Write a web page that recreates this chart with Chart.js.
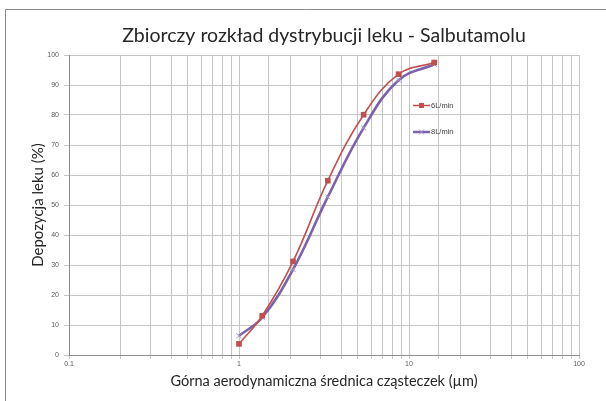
<!DOCTYPE html>
<html>
<head>
<meta charset="utf-8">
<script src="https://cdn.jsdelivr.net/npm/chart.js@4/dist/chart.umd.min.js"></script>
<style>
  html, body { margin: 0; padding: 0; background: #fff; overflow: hidden; }
  canvas { display: block; }
</style>
</head>
<body>
<canvas id="c" width="606" height="401"></canvas>
<script>
// ---- data ----
const sizes = [1.0, 1.37, 2.08, 3.33, 5.41, 8.68, 14.07];      // µm (log x)
const flow6 = [3.7, 13.1, 31.2, 58.1, 80.1, 93.6, 97.5];        // 6L/min
const flow8 = [6.4, 12.5, 28.5, 52.7, 75.7, 91.6, 96.9];        // 8L/min
const seriesNames = ['6L/min', '8L/min'];
const xTickLabels = [0.1, 1, 10, 100];
const titleText = 'Zbiorczy rozkład dystrybucji leku - Salbutamolu';
const xTitle = 'Górna aerodynamiczna średnica cząsteczek (µm)';
const yTitle = 'Depozycja leku (%)';

const red = '#C0504D';
const purple = '#7B62AA';
const toPts = ys => sizes.map((x, i) => ({x: x, y: ys[i]}));

const framePlugin = {
  id: 'frame',
  beforeDraw(chart) {
    const ctx = chart.ctx;
    ctx.save();
    ctx.fillStyle = '#ffffff';
    ctx.fillRect(0, 0, chart.width, chart.height);
    ctx.strokeStyle = '#8a8a8a';
    ctx.lineWidth = 1;
    ctx.beginPath();
    ctx.moveTo(5.5, chart.height);
    ctx.lineTo(5.5, 9.5);
    ctx.lineTo(chart.width, 9.5);
    ctx.stroke();
    ctx.restore();
  }
};

const titlePlugin = {
  id: 'plotTitle',
  afterDraw(chart) {
    const ctx = chart.ctx, ca = chart.chartArea;
    ctx.save();
    ctx.fillStyle = '#262626';
    ctx.font = '19.5px Lato, "Open Sans", sans-serif';
    ctx.textAlign = 'center';
    ctx.textBaseline = 'middle';
    ctx.fillText(titleText, (ca.left + ca.right) / 2, 36);
    ctx.restore();
  }
};

const legendPlugin = {
  id: 'insideLegend',
  afterDatasetsDraw(chart) {
    const ctx = chart.ctx;
    const items = [
      {name: seriesNames[0], color: red, w: 1.5, style: 'rect', y: 105.5},
      {name: seriesNames[1], color: purple, w: 2.5, style: 'cross', y: 132}
    ];
    ctx.save();
    items.forEach(it => {
      const x0 = 413, x1 = 430, xm = 421.5;
      ctx.strokeStyle = it.color;
      ctx.lineWidth = it.w;
      ctx.beginPath(); ctx.moveTo(x0, it.y); ctx.lineTo(x1, it.y); ctx.stroke();
      if (it.style === 'rect') {
        ctx.fillStyle = it.color;
        ctx.fillRect(xm - 2.5, it.y - 2.5, 5, 5);
      } else {
        ctx.strokeStyle = '#A592C4'; ctx.lineWidth = 1;
        ctx.beginPath();
        ctx.moveTo(xm - 2.5, it.y - 2.5); ctx.lineTo(xm + 2.5, it.y + 2.5);
        ctx.moveTo(xm + 2.5, it.y - 2.5); ctx.lineTo(xm - 2.5, it.y + 2.5);
        ctx.stroke();
      }
      ctx.fillStyle = '#404040';
      ctx.font = '7.5px "Liberation Sans", Arial, sans-serif';
      ctx.textBaseline = 'middle';
      ctx.textAlign = 'left';
      ctx.fillText(it.name, x1 + 1, it.y);
    });
    ctx.restore();
  }
};

new Chart(document.getElementById('c'), {
  type: 'line',
  data: {
    datasets: [
      {
        label: seriesNames[0], data: toPts(flow6),
        borderColor: red, backgroundColor: red, borderWidth: 1.6,
        pointStyle: 'rect', pointRadius: 4, pointBorderWidth: 0,
        pointBackgroundColor: red, tension: 0.4, fill: false
      },
      {
        label: seriesNames[1], data: toPts(flow8),
        borderColor: purple, backgroundColor: purple, borderWidth: 2.6,
        pointStyle: 'crossRot', pointRadius: 3.5, pointBorderWidth: 1,
        pointBorderColor: '#A592C4', tension: 0.4, fill: false
      }
    ]
  },
  options: {
    responsive: false,
    animation: false,
    events: [],
    layout: { padding: { left: 0, right: 27, top: 55, bottom: 0 } },
    plugins: {
      legend: { display: false },
      tooltip: { enabled: false },
      title: { display: false }
    },
    scales: {
      x: {
        type: 'logarithmic', min: 0.1, max: 100,
        afterFit(s) { s.height = 46; },
        grid: { color: '#c4c4c4', lineWidth: 1, tickLength: 4, drawTicks: true },
        border: { display: true, color: '#8c8c8c' },
        ticks: {
          autoSkip: false, maxRotation: 0, padding: 1,
          color: '#595959',
          font: { family: '"Liberation Sans", Arial, sans-serif', size: 7 },
          callback(v) {
            const val = +Number(v).toPrecision(3);
            return xTickLabels.includes(val) ? String(val) : '';
          }
        },
        title: {
          display: true, text: xTitle, color: '#262626',
          font: { family: 'Lato, "Open Sans", sans-serif', size: 14.5, lineHeight: 1.2 },
          padding: { top: 0, bottom: 11 }
        }
      },
      y: {
        min: 0, max: 100,
        afterFit(s) { s.width = 69; },
        grid: { color: '#c4c4c4', lineWidth: 1, tickLength: 5, drawTicks: true },
        border: { display: true, color: '#8c8c8c' },
        ticks: {
          stepSize: 10, padding: 5, color: '#595959',
          font: { family: '"Liberation Sans", Arial, sans-serif', size: 7 }
        },
        title: {
          display: true, text: yTitle, color: '#262626',
          font: { family: 'Lato, "Open Sans", sans-serif', size: 15, lineHeight: 1.2 },
          padding: { top: 29, bottom: 0 }
        }
      }
    }
  },
  plugins: [framePlugin, legendPlugin, titlePlugin]
});
</script>
</body>
</html>
